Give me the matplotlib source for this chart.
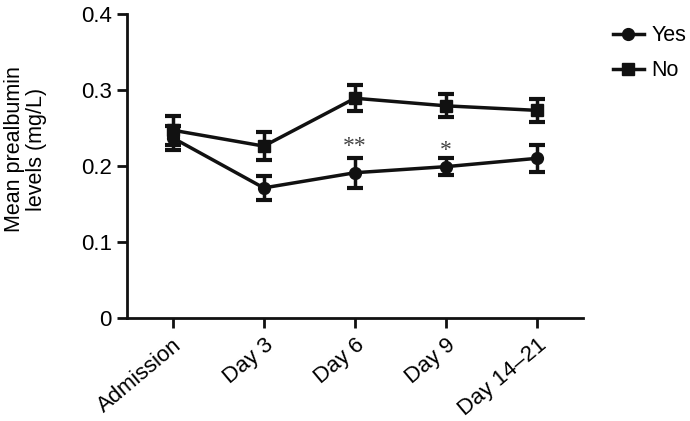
import matplotlib
matplotlib.use("Agg")
import matplotlib.pyplot as plt
from matplotlib.lines import Line2D
import numpy as np

plt.rcParams['font.family'] = ['Liberation Sans', 'DejaVu Sans']

categories = ["Admission", "Day 3", "Day 6", "Day 9", "Day 14\u201321"]
yes_mean = [0.237, 0.171, 0.191, 0.199, 0.210]
yes_err = [0.016, 0.016, 0.020, 0.011, 0.018]
no_mean = [0.247, 0.226, 0.289, 0.279, 0.273]
no_err = [0.019, 0.018, 0.017, 0.015, 0.015]
stars = {2: "**", 3: "*"}
star_y = {2: 0.212, 3: 0.207}

fig = plt.figure(figsize=(6.9, 4.21), dpi=100)
ax = fig.add_axes([0.184, 0.245, 0.661, 0.722])

x = np.arange(len(categories))
ax.errorbar(x, no_mean, yerr=no_err, color='#111111', marker='s', markersize=8.5,
            linewidth=2.5, elinewidth=2.5, capsize=6, capthick=3)
ax.errorbar(x, yes_mean, yerr=yes_err, color='#111111', marker='o', markersize=8.5,
            linewidth=2.5, elinewidth=2.5, capsize=6, capthick=3)

for i, s in stars.items():
    ax.text(x[i], star_y[i], s, ha='center', va='bottom', fontsize=17,
            family='Liberation Serif', color='#444444')

ax.set_xlim(-0.5, 4.5)
ax.set_ylim(0, 0.4)
ax.set_yticks([0, 0.1, 0.2, 0.3, 0.4])
ax.set_yticklabels(["0", "0.1", "0.2", "0.3", "0.4"])
ax.set_xticks(x)
ax.set_xticklabels(categories, rotation=40, ha='right', rotation_mode='anchor')
ax.tick_params(axis='both', labelsize=16, width=2, length=7, color='#111111')
ax.tick_params(axis='x', pad=5)
ax.tick_params(axis='y', pad=4)
ax.set_ylabel("Mean prealbumin\nlevels (mg/L)", fontsize=15.5, linespacing=1.05)
ax.yaxis.set_label_coords(-0.175, 0.555)
for side in ['top', 'right']:
    ax.spines[side].set_visible(False)
for side in ['left', 'bottom']:
    ax.spines[side].set_linewidth(2)
    ax.spines[side].set_color('#111111')

handles = [Line2D([], [], color='#111111', marker='o', markersize=8.5, linewidth=2.5),
           Line2D([], [], color='#111111', marker='s', markersize=8.5, linewidth=2.5)]
fig.legend(handles, ["Yes", "No"], loc='upper left', bbox_to_anchor=(0.888, 0.94),
           frameon=False, fontsize=15.5, handlelength=1.45, labelspacing=0.65,
           handletextpad=0.35, borderaxespad=0, borderpad=0)

fig.savefig("out.png", dpi=100)
